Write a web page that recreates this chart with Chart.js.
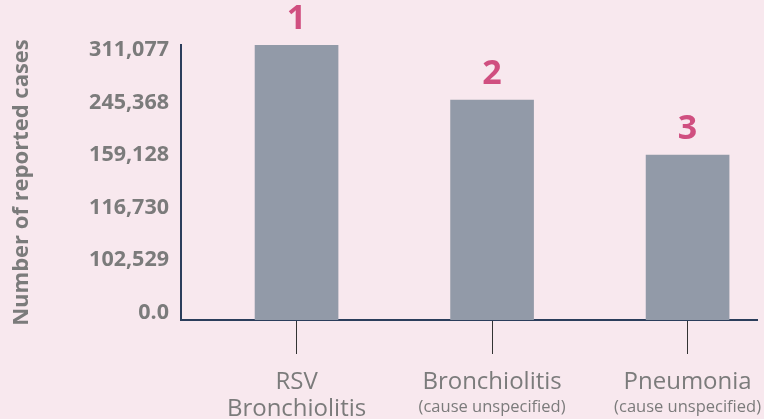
<!DOCTYPE html>
<html>
<head>
<meta charset="utf-8">
<script src="https://cdn.jsdelivr.net/npm/chart.js@4/dist/chart.umd.min.js"></script>
<style>
    html, body { margin: 0; padding: 0; background: #f8e8ee; }
    #wrap { width: 764px; height: 419px; }
</style>
</head>
<body>
<div id="wrap"><canvas id="cases-bar"></canvas></div>
<script>
// Data
const tickLabels = ["0.0", "102,529", "116,730", "159,128", "245,368", "311,077"];
const categories = [["RSV", "Bronchiolitis"], ["Bronchiolitis", "(cause unspecified)"], ["Pneumonia", "(cause unspecified)"]];
const reportedCases = ["311,077", "245,368", "159,128"];
const ranks = ["1", "2", "3"];

const grey_text = "#7b7b7b";
const axis_colour = "#2b3d5b";
const pink = "#d04f80";

// the y axis is not linear: each bar sits on the tick holding its count
const bar_points = [];
for (let i = 0; i < reportedCases.length; i ++) {
    bar_points.push({x: i, y: tickLabels.indexOf(reportedCases[i])});
}

const background = {
    id: "background",
    beforeDraw(chart) {
        const ctx = chart.ctx;
        ctx.save();
        ctx.fillStyle = "#f8e8ee";
        ctx.fillRect(0, 0, chart.width, chart.height);
        ctx.restore();
    }
};

// rank numbers above bars and two line category labels
const labels = {
    id: "labels",
    afterDraw(chart) {
        const ctx = chart.ctx;
        const x_scale = chart.scales.x;
        const meta = chart.getDatasetMeta(0);
        ctx.save();
        ctx.textAlign = "center";
        ctx.textBaseline = "middle";
        meta.data.forEach((bar, i) => {
            ctx.fillStyle = pink;
            ctx.font = "bold 34px 'Open Sans'";
            ctx.fillText(ranks[i], bar.x, bar.y - 26);

            const x = x_scale.getPixelForValue(i);
            ctx.fillStyle = grey_text;
            ctx.font = "24px 'Open Sans'";
            ctx.fillText(categories[i][0], x, 382);
            if (i == 0) {
                ctx.fillText(categories[i][1], x, 409);
            } else {
                ctx.font = "16.5px 'Open Sans'";
                ctx.fillText(categories[i][1], x, 407);
            }
        });
        ctx.restore();
    }
};

const config_bar = {
    type: "bar",
    data: {
        datasets: [{
            data: bar_points,
            backgroundColor: "#929aa8",
            barThickness: 83
        }]
    },
    options: {
        responsive: true,
        maintainAspectRatio: false,
        animation: false,
        layout: {
            padding: { top: 45, right: 7, left: 0, bottom: 0 }
        },
        plugins: {
            legend: { display: false },
            tooltip: { enabled: false }
        },
        scales: {
            x: {
                type: "linear",
                offset: false,
                min: -0.591,
                max: 2.355,
                afterBuildTicks: (scale) => {
                    scale.ticks = categories.map((c, i) => ({value: i}));
                },
                afterFit: (scale) => { scale.height = 99; },
                ticks: { display: false },
                grid: {
                    offset: false,
                    drawOnChartArea: false,
                    tickLength: 34,
                    tickColor: "#333",
                    tickWidth: 1
                },
                border: { color: axis_colour, width: 2 }
            },
            y: {
                min: 0,
                max: 5,
                afterBuildTicks: (scale) => {
                    scale.ticks = tickLabels.map((t, i) => ({value: 0.13 + i * 0.956}));
                },
                afterFit: (scale) => { scale.width = 181; },
                ticks: {
                    callback: (v, i) => tickLabels[i],
                    color: grey_text,
                    font: { family: "Open Sans", size: 21.5, weight: "bold" },
                    padding: 12
                },
                grid: { display: false, drawTicks: false },
                border: { color: axis_colour, width: 2 },
                title: {
                    display: true,
                    text: "Number of reported cases",
                    color: grey_text,
                    font: { family: "Open Sans", size: 22, weight: "bold" },
                    padding: { top: 9, bottom: 0 }
                }
            }
        }
    },
    plugins: [background, labels]
};

const ctx = document.getElementById("cases-bar").getContext("2d");
new Chart(ctx, config_bar);
</script>
</body>
</html>
